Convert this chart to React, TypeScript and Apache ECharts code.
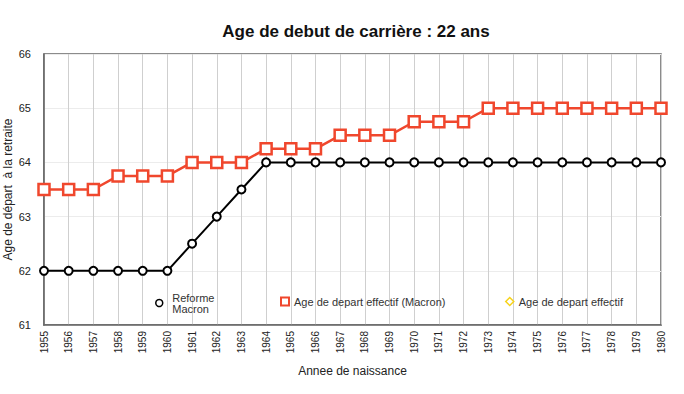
import React, { useEffect, useRef } from "react";
import * as echarts from "echarts";

const years = ["1955","1956","1957","1958","1959","1960","1961","1962","1963","1964","1965","1966","1967","1968","1969","1970","1971","1972","1973","1974","1975","1976","1977","1978","1979","1980"];
const reformeMacron = [62,62,62,62,62,62,62.5,63,63.5,64,64,64,64,64,64,64,64,64,64,64,64,64,64,64,64,64];
const departEffectifMacron = [63.5,63.5,63.5,63.75,63.75,63.75,64,64,64,64.25,64.25,64.25,64.5,64.5,64.5,64.75,64.75,64.75,65,65,65,65,65,65,65,65];
const departEffectif: (number | null)[] = [];

const FONT = "Liberation Sans, Arial, Helvetica, sans-serif";
const RED = "#f0472d";
const YELLOW = "#f7d31a";

export default function App() {
  const ref = useRef<HTMLDivElement>(null);
  useEffect(() => {
    document.body.style.margin = "0";
    const chart = echarts.init(ref.current!, null, { renderer: "svg" });
    const legendBase = {
      orient: "horizontal",
      itemHeight: 8,
      itemWidth: 8,
      textStyle: { fontFamily: FONT, fontSize: 11, color: "#333" },
      selectedMode: false,
    };
    chart.setOption({
      animation: false,
      backgroundColor: "#fff",
      textStyle: { fontFamily: FONT },
      title: {
        text: "Age de debut de carrière : 22 ans",
        left: 351,
        textAlign: "center",
        top: 18,
        textStyle: { fontFamily: FONT, fontSize: 17, fontWeight: "bold", color: "#111" },
      },
      legend: [
        {
          ...legendBase,
          left: 150,
          top: 287,
          itemWidth: 16,
          itemHeight: 7,
          formatter: () => "Reforme\nMacron",
          data: [{ name: "Reforme Macron", icon: "circle", itemStyle: { color: "#fff", borderColor: "#000", borderWidth: 1.5 } }],
        },
        {
          ...legendBase,
          left: 275,
          top: 291,
          data: [{ name: "Age de depart effectif (Macron)", icon: "rect", itemStyle: { color: "#fff", borderColor: RED, borderWidth: 2 } }],
        },
        {
          ...legendBase,
          left: 500,
          top: 291,
          data: [{ name: "Age de depart effectif", icon: "diamond", itemStyle: { color: "#fff", borderColor: YELLOW, borderWidth: 1.5 } }],
        },
      ],
      grid: {
        left: 44,
        right: 23,
        top: 54,
        bottom: 69,
        show: true,
        borderColor: "#666",
        borderWidth: 1.5,
        containLabel: false,
        outerBoundsMode: "none",
      },
      xAxis: {
        type: "category",
        data: years,
        boundaryGap: false,
        name: "Annee de naissance",
        nameLocation: "middle",
        nameGap: 40,
        nameMoveOverlap: false,
        nameTextStyle: { fontFamily: FONT, fontSize: 12, color: "#222" },
        axisLine: { lineStyle: { color: "#666", width: 1.5 } },
        axisTick: { show: false },
        axisLabel: { rotate: 90, fontSize: 10, color: "#222", margin: 6, interval: 0 },
        splitLine: { show: true, lineStyle: { color: "#cfcfcf", width: 1 } },
      },
      yAxis: {
        type: "value",
        min: 61,
        max: 66,
        interval: 1,
        name: "Age de départ  à la retraite",
        nameLocation: "middle",
        nameGap: 30,
        nameMoveOverlap: false,
        nameRotate: 90,
        nameTextStyle: { fontFamily: FONT, fontSize: 12, color: "#222" },
        axisLine: { show: true, lineStyle: { color: "#666", width: 1.5 } },
        axisTick: { show: false },
        axisLabel: { fontSize: 11, color: "#222", margin: 13 },
        splitLine: { show: true, lineStyle: { color: "#ececec", width: 1 } },
      },
      series: [
        {
          name: "Reforme Macron",
          type: "line",
          data: reformeMacron,
          symbol: "circle",
          symbolSize: 8,
          lineStyle: { color: "#000", width: 2 },
          itemStyle: { color: "#fff", borderColor: "#000", borderWidth: 2 },
          z: 3,
        },
        {
          name: "Age de depart effectif (Macron)",
          type: "line",
          data: departEffectifMacron,
          symbol: "rect",
          symbolSize: 11,
          lineStyle: { color: RED, width: 2.5 },
          itemStyle: { color: "#fff", borderColor: RED, borderWidth: 2.5 },
          z: 4,
        },
        {
          name: "Age de depart effectif",
          type: "line",
          data: departEffectif,
          symbol: "diamond",
          symbolSize: 9,
          lineStyle: { color: YELLOW, width: 2 },
          itemStyle: { color: "#fff", borderColor: YELLOW, borderWidth: 1.5 },
        },
      ],
    });
    return () => chart.dispose();
  }, []);
  return <div ref={ref} style={{ width: 684, height: 394 }} />;
}
